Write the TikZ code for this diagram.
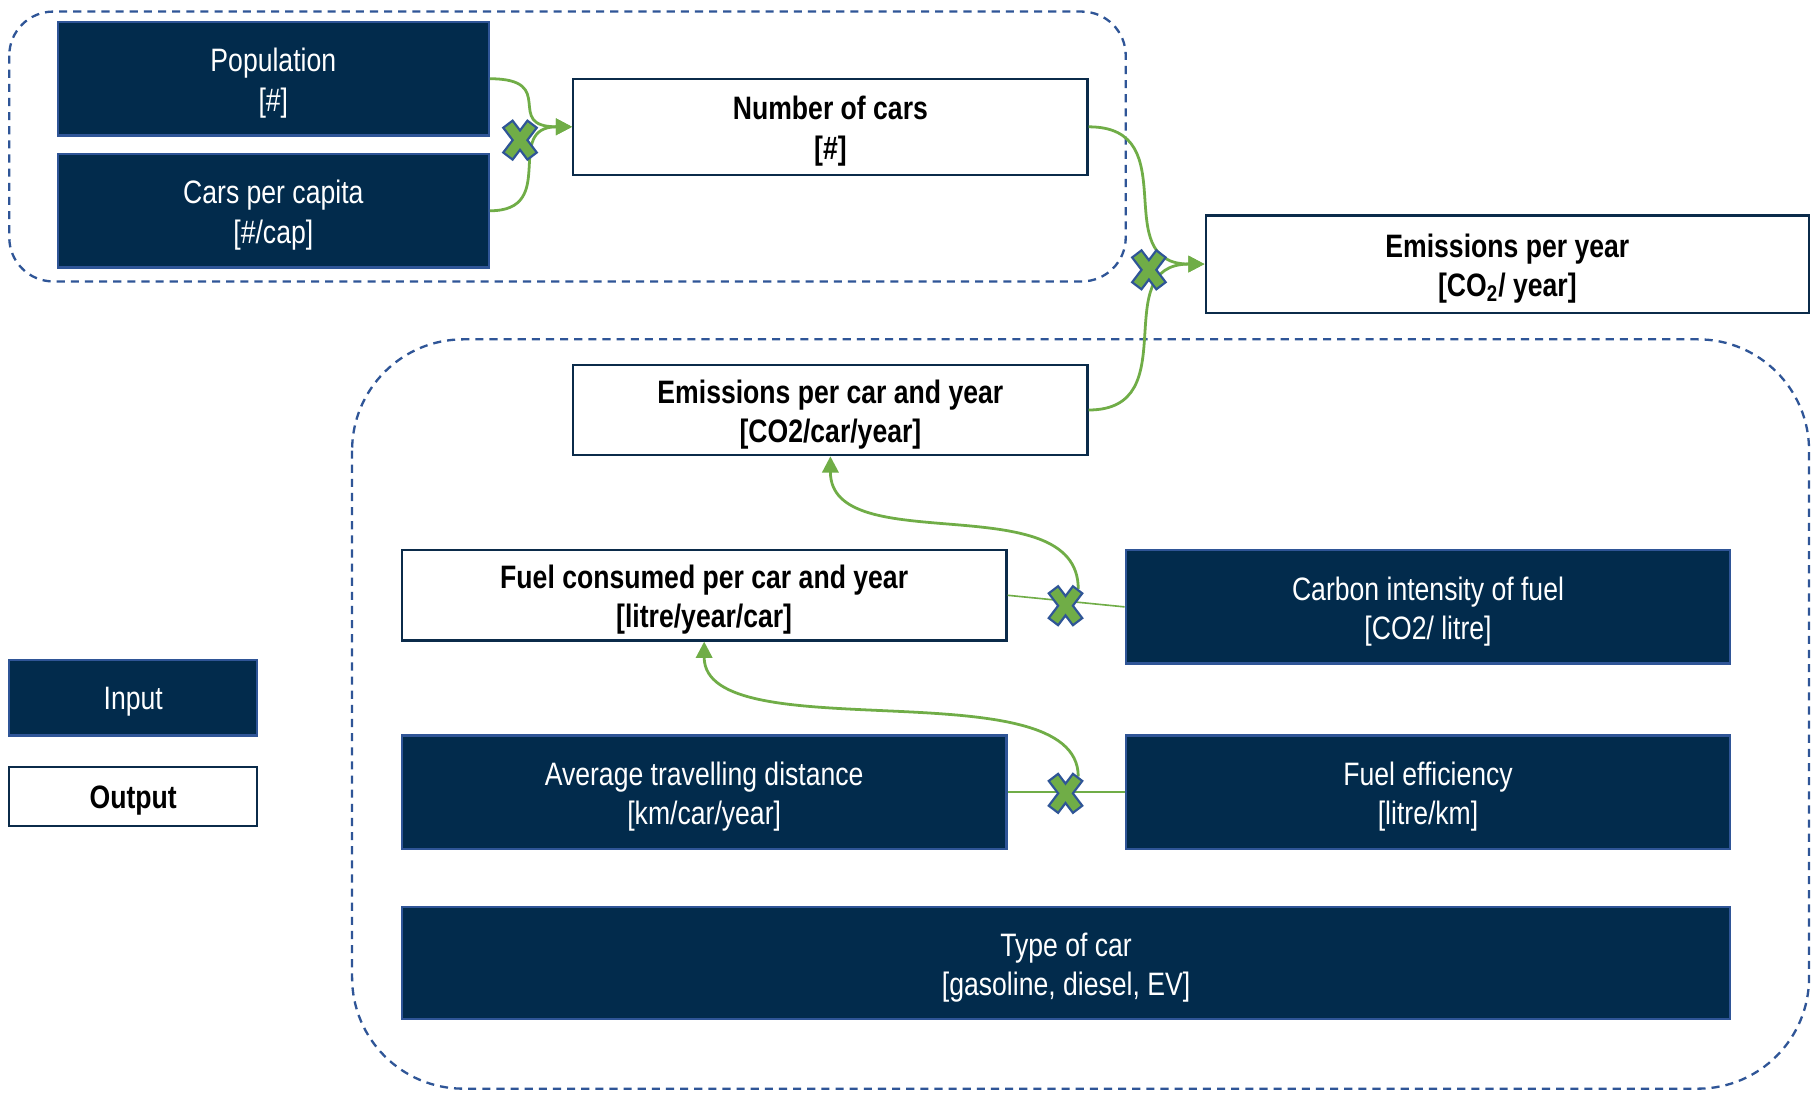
\documentclass[tikz,border=0pt]{standalone}
\usepackage{fontspec}
\setmainfont[FakeStretch=0.82]{Liberation Sans}
\usetikzlibrary{arrows.meta,calc}
\definecolor{navy}{HTML}{022B4C}
\definecolor{bordblue}{HTML}{2F5597}
\definecolor{lgreen}{HTML}{70AD47}
\definecolor{edgenavy}{HTML}{0B2B4A}
\newcommand{\up}{\rule{0pt}{14pt}}
\tikzset{
  inbox/.style={draw=bordblue, fill=navy, line width=1pt, text=white, align=center, inner sep=0pt, font=\fontsize{14}{17}\selectfont},
  outbox/.style={draw=edgenavy, fill=white, line width=1pt, text=black, align=center, inner sep=0pt, font=\fontsize{14}{17}\selectfont\bfseries},
  dashbox/.style={draw=bordblue, line width=1pt, dash pattern=on 3.5pt off 2.6pt},
  conn/.style={draw=lgreen, line width=1.2pt},
  thinconn/.style={draw=lgreen, line width=0.7pt},
  arr/.style={-{Triangle[length=7pt,width=7pt]}},
  xmark/.style={minimum width=11pt, minimum height=14.5pt, inner sep=0pt, outer sep=0pt},
  xouter/.style={draw=bordblue, line width=6pt, line cap=butt},
  xinner/.style={draw=lgreen, line width=4pt, line cap=butt, shorten <=1pt, shorten >=1pt}
}
\newcommand{\drawX}[1]{%
  \draw[xouter] (#1.north west) -- (#1.south east) (#1.north east) -- (#1.south west);
  \draw[xinner] (#1.north west) -- (#1.south east);
  \draw[xinner] (#1.north east) -- (#1.south west);
}
\begin{document}
\begin{tikzpicture}[x=0.5pt,y=-0.5pt]
\useasboundingbox (0,0) rectangle (1568,946);
\fill[white] (0,0) rectangle (1568,946);

% dashed groups
\draw[dashbox, rounded corners=19pt] (8,10) rectangle (972,243);
\draw[dashbox, rounded corners=48pt] (304,293) rectangle (1562,940);

% boxes
\node[inbox, minimum width=186pt, minimum height=49pt] (pop) at (236,68) {\up Population\\{[\#]}};
\node[inbox, minimum width=186pt, minimum height=49pt] (cpc) at (236,182) {\up Cars per capita\\{[\#/cap]}};
\node[outbox, minimum width=222pt, minimum height=41.5pt] (noc) at (717,109.5) {\up Number of cars\\{[\#]}};
\node[outbox, minimum width=260.5pt, minimum height=42pt] (epy) at (1301.5,228) {\up Emissions per year\\{[CO\textsubscript{2}/ year]}};
\node[outbox, minimum width=222pt, minimum height=39pt] (epc) at (717,354) {\up Emissions per car and year\\{[CO2/car/year]}};
\node[outbox, minimum width=261pt, minimum height=39pt] (fuel) at (608,514) {\up Fuel consumed per car and year\\{[litre/year/car]}};
\node[inbox, minimum width=261pt, minimum height=49pt] (ci) at (1233,524) {\up Carbon intensity of fuel\\{[CO2/ litre]}};
\node[inbox, minimum width=261pt, minimum height=49pt] (avg) at (608,684) {\up Average travelling distance\\{[km/car/year]}};
\node[inbox, minimum width=261pt, minimum height=49pt] (fe) at (1233,684) {\up Fuel efficiency\\{[litre/km]}};
\node[inbox, minimum width=573.5pt, minimum height=48.5pt] (type) at (920.5,831.5) {\up Type of car\\{[gasoline, diesel, EV]}};
\node[inbox, minimum width=107pt, minimum height=32.5pt] (legin) at (115,602.5) {\rule{0pt}{13.2pt}Input};
\node[outbox, minimum width=107pt, minimum height=25.5pt] (legout) at (115,687.5) {\rule{0pt}{13.2pt}Output};

% X marks (positions)
\node[xmark] (x1) at (449,121) {};
\node[xmark] (x2) at (992,233) {};
\node[xmark] (x3) at (920,523) {};
\node[xmark] (x4) at (920,685) {};

% connectors
\draw[conn, arr] (pop.east) .. controls +(60,0) and +(-60,0) .. (noc.west);
\draw[conn, arr] (cpc.east) .. controls +(60,0) and +(-60,0) .. (noc.west);
\draw[conn, arr] (noc.east) .. controls +(85,0) and +(-85,0) .. (epy.west);
\draw[conn, arr] (epc.east) .. controls +(85,0) and +(-85,0) .. (epy.west);
\draw[thinconn] (fuel.east) -- (ci.west);
\draw[thinconn] (avg.east) -- (fe.west);
\draw[conn, arr] (x3.north east) .. controls +(0,-90) and +(0,90) .. (epc.south);
\draw[conn, arr] (x4.north east) .. controls +(0,-95) and +(0,95) .. (fuel.south);

\drawX{x1}
\drawX{x2}
\drawX{x3}
\drawX{x4}
\end{tikzpicture}
\end{document}
